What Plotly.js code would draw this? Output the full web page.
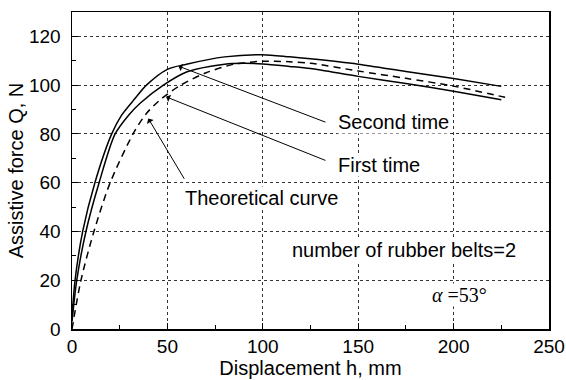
<!DOCTYPE html>
<html>
<head>
<meta charset="utf-8">
<script src="https://cdn.plot.ly/plotly-3.0.1.min.js"></script>
<style>html,body{margin:0;padding:0;background:#fff;}#chart{width:566px;height:380px;}</style>
</head>
<body>
<div id="chart"></div>
<script>
// Second time (upper solid curve)
const secondH = [0, 1.6, 5.6, 12, 20.8, 26, 33, 39, 50, 60, 80, 100, 114, 125, 150, 175, 200, 225];
const secondQ = [5, 20, 40, 60, 80, 87.7, 94.5, 100, 106.5, 108.6, 111.6, 112.5, 111.6, 110.8, 108.6, 105.6, 102.7, 99.5];
// First time (lower solid curve)
const firstH = [0, 2.5, 7.3, 14.2, 22.6, 30, 35.7, 47.9, 60, 80, 90, 100, 114, 125, 150, 175, 200, 225];
const firstQ = [3, 20, 40, 60, 80, 88, 92.6, 100, 105.4, 108.6, 109, 108.7, 107.7, 106.8, 103.6, 100.7, 97.5, 94];
// Theoretical curve (dashed)
const theoH = [0, 4.7, 11.5, 20, 32, 39, 47, 57, 70, 85, 100, 114, 125, 150, 175, 200, 227];
const theoQ = [0, 20, 40, 60, 80, 88.4, 94.5, 100, 105, 108.6, 109.8, 109.6, 109, 105.8, 102.8, 99.6, 95];

const xTicks = [0, 50, 100, 150, 200, 250];
const yTicks = [0, 20, 40, 60, 80, 100, 120];

const FONT = 'Liberation Sans, Arial, sans-serif';
const lineBase = {color: '#000', width: 1.5, shape: 'spline', smoothing: 0.8};

const traces = [
  {x: secondH, y: secondQ, mode: 'lines', name: 'Second time', line: lineBase},
  {x: firstH, y: firstQ, mode: 'lines', name: 'First time', line: lineBase},
  {x: theoH, y: theoQ, mode: 'lines', name: 'Theoretical curve', line: Object.assign({}, lineBase, {dash: '7px,5px'})}
];

const arrow = (hx, hy, tx, ty) => ({
  x: hx, y: hy, ax: tx, ay: ty, xref: 'x', yref: 'y', axref: 'x', ayref: 'y',
  text: '', showarrow: true, arrowhead: 1, arrowsize: 1.3, arrowwidth: 1, arrowcolor: '#000'
});
const label = (txt, x, y, anchor, fam) => ({
  x: x, y: y, xref: 'x', yref: 'y', text: txt, showarrow: false, xanchor: anchor, yanchor: 'middle',
  font: {family: fam || FONT, size: 20, color: '#000'}, bgcolor: '#fff', borderpad: 0
});

const layout = {
  width: 566, height: 380,
  margin: {l: 72, r: 17, t: 12, b: 51},
  paper_bgcolor: '#fff', plot_bgcolor: '#fff',
  showlegend: false,
  font: {family: FONT, size: 19, color: '#000'},
  xaxis: {
    range: [0, 250], tickvals: xTicks, ticktext: xTicks.map(String),
    ticks: 'inside', ticklen: 6, tickwidth: 1, tickcolor: '#000',
    minor: {dtick: 25, tick0: 0, ticks: 'inside', ticklen: 4, tickcolor: '#000', showgrid: false},
    showline: true, linecolor: '#000', linewidth: 1.5, mirror: true,
    showgrid: true, gridcolor: '#333', gridwidth: 1, griddash: 'dot',
    zeroline: false, tickfont: {size: 19},
    title: {text: 'Displacement h, mm', font: {size: 20}, standoff: 4}
  },
  yaxis: {
    range: [0, 130], tickvals: yTicks, ticktext: yTicks.map(String),
    ticks: 'inside', ticklen: 6, tickwidth: 1, tickcolor: '#000',
    minor: {dtick: 10, tick0: 0, ticks: 'inside', ticklen: 4, tickcolor: '#000', showgrid: false},
    showline: true, linecolor: '#000', linewidth: 1.5, mirror: true,
    showgrid: true, gridcolor: '#333', gridwidth: 1, griddash: 'dot',
    zeroline: false, tickfont: {size: 19}, ticklabelstandoff: 6,
    title: {text: 'Assistive force Q, N', font: {size: 20}, standoff: 0}
  },
  annotations: [
    label('Second time', 139, 85, 'left'),
    label('First time', 139, 67.2, 'left'),
    label('Theoretical curve', 58.5, 53.7, 'left'),
    label('number of rubber belts=2', 173.8, 32.4, 'center'),
    label('<i>α</i> =53°', 203, 14, 'center', 'Liberation Serif, Times New Roman, serif'),
    arrow(55.8, 107.8, 133.6, 84.6),
    arrow(49.3, 95.2, 133.6, 68.9),
    arrow(40, 86.3, 59.3, 61)
  ]
};

Plotly.newPlot('chart', traces, layout, {displayModeBar: false, staticPlot: true});
</script>
</body>
</html>
